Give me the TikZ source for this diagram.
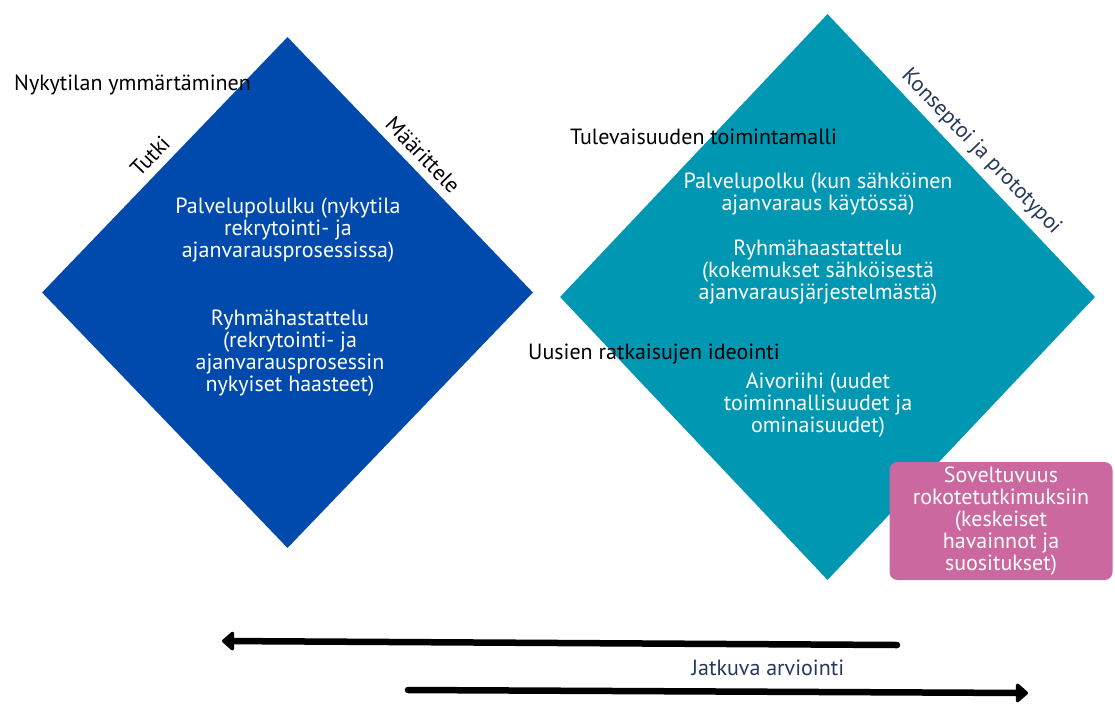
\documentclass[tikz,border=0pt]{standalone}
\usepackage{fontspec}
\setmainfont{PT Sans}
\usetikzlibrary{shapes.geometric,arrows.meta}
\definecolor{nowblue}{RGB}{0,74,173}
\definecolor{futteal}{RGB}{0,151,178}
\definecolor{recpink}{RGB}{203,104,160}
\definecolor{slate}{RGB}{40,56,90}
\begin{document}
\begin{tikzpicture}[x=1pt,y=-1pt,dia/.style={diamond, draw=none, inner sep=0pt},txt/.style={font=\fontsize{22}{22}\selectfont, inner sep=0pt},wtxt/.style={txt, text=white, align=center},side/.style={txt, text=slate},evarrow/.style={line width=6.5pt, line cap=round, -{Triangle[round,width=22pt,length=13pt]}}]
  \useasboundingbox (0,0) rectangle (1115,704);

  \node[dia, fill=nowblue, minimum width=491pt, minimum height=511pt] (now) at (287.5,292.5) {};
  \node[dia, fill=futteal, minimum width=535pt, minimum height=566pt] (future) at (827.5,297) {};

  \node[txt, anchor=west] (nyk) at (14,85) {Nykytilan ymmärtäminen};
  \node[txt, rotate=46] (tutki) at (150,156) {Tutki};
  \node[txt, rotate=-46] (maar) at (423,155) {Määrittele};
  \node[wtxt] (polku1) at (288,230) {Palvelupolulku (nykytila\\rekrytointi- ja\\ajanvarausprosessissa)};
  \node[wtxt] (haast1) at (290,353) {Ryhmähastattelu\\(rekrytointi- ja\\ajanvarausprosessin\\nykyiset haasteet)};

  \node[txt, anchor=west] (tul) at (570,137) {Tulevaisuuden toimintamalli};
  \node[side, rotate=-46] (kons) at (981,152) {Konseptoi ja prototypoi};
  \node[wtxt] (polku2) at (818,194) {Palvelupolku (kun sähköinen\\ajanvaraus käytössä)};
  \node[wtxt] (haast2) at (818,272) {Ryhmähaastattelu\\(kokemukset sähköisestä\\ajanvarausjärjestelmästä)};
  \node[txt, anchor=west] (uus) at (528,354) {Uusien ratkaisujen ideointi};
  \node[wtxt] (aivo) at (818,405) {Aivoriihi (uudet\\toiminnallisuudet ja\\ominaisuudet)};

  \node[wtxt, fill=recpink, rounded corners=8pt, minimum width=223pt, minimum height=118pt] (sov) at (1001,521) {Soveltuvuus\\rokotetutkimuksiin\\(keskeiset\\havainnot ja\\suositukset)};

  \coordinate (back1) at (897,645);
  \coordinate (back2) at (222,641);
  \coordinate (fwd1) at (408,690);
  \coordinate (fwd2) at (1028,693);
  \draw[evarrow] (back1) -- (back2);
  \draw[evarrow] (fwd1) -- (fwd2);
  \node[side] (jatk) at (768,668) {Jatkuva arviointi};

\end{tikzpicture}
\end{document}
